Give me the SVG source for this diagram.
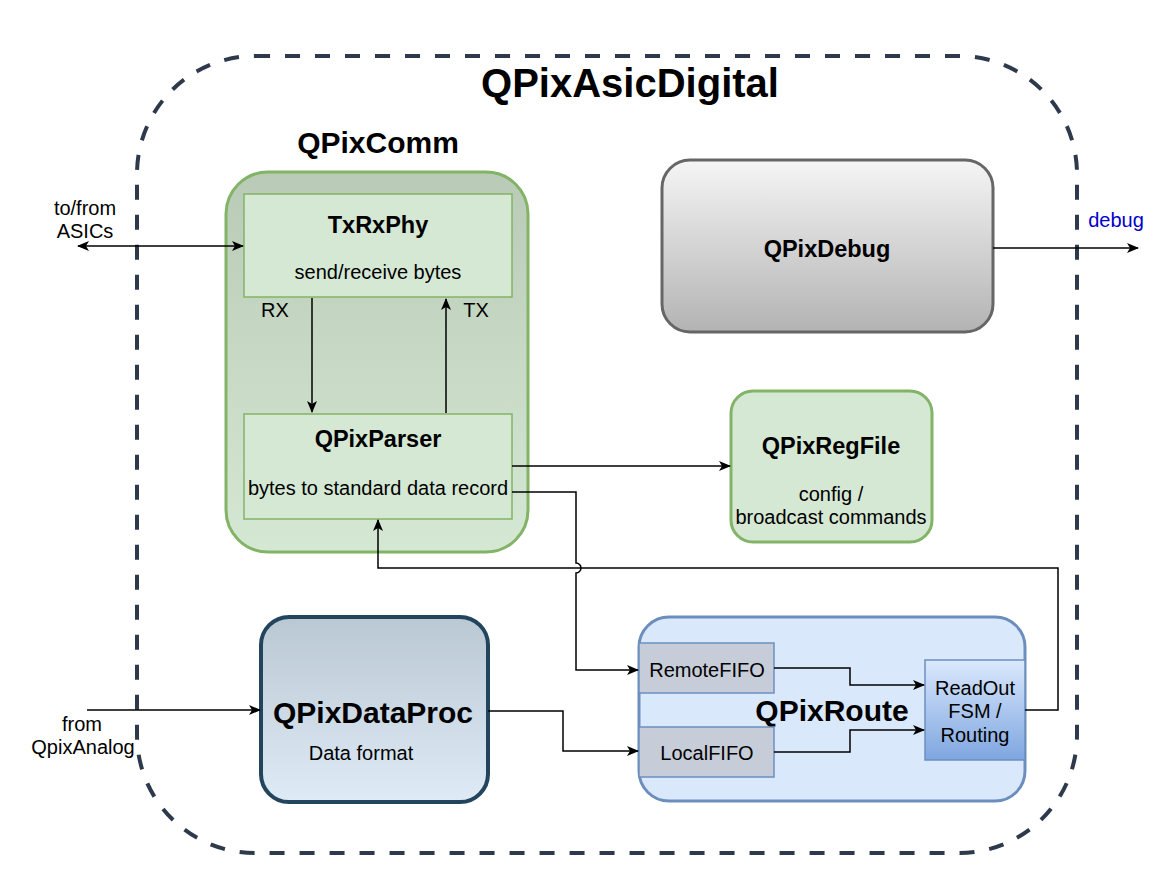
<svg xmlns="http://www.w3.org/2000/svg" width="1168" height="886" viewBox="0 0 1168 886">
<defs>
<marker id="arr" viewBox="0 0 12 10" refX="11" refY="5" markerWidth="12" markerHeight="10" markerUnits="userSpaceOnUse" orient="auto-start-reverse">
<path d="M0,0 L12,5 L0,10 L3,5 Z" fill="#000"/>
</marker>
<linearGradient id="gComm" x1="0" y1="0" x2="0" y2="1"><stop offset="0" stop-color="#b9cbb6"/><stop offset="1" stop-color="#d5e8d4"/></linearGradient>
<linearGradient id="gDebug" x1="0" y1="0" x2="0" y2="1"><stop offset="0" stop-color="#f5f5f5"/><stop offset="1" stop-color="#b3b3b3"/></linearGradient>
<linearGradient id="gProc" x1="0" y1="0" x2="0" y2="1"><stop offset="0" stop-color="#bac8d3"/><stop offset="1" stop-color="#deebf7"/></linearGradient>
<linearGradient id="gFsm" x1="0" y1="0" x2="0" y2="1"><stop offset="0" stop-color="#dae8fc"/><stop offset="1" stop-color="#7ea6e0"/></linearGradient>
</defs>
<style>
text{font-family:"Liberation Sans",Arial,sans-serif;fill:#000;text-anchor:middle}
.b{font-weight:bold}
.t16{font-size:20px}
.t20{font-size:23.5px}
.t28{font-size:30px}
.grn{fill:#d5e8d4;stroke:#82b366;stroke-width:1.5}
.fifo{fill:#c6cdd9;stroke:#6c8ebf;stroke-width:1.5}
.c{fill:none;stroke:#000;stroke-width:1.5}
</style>
<rect x="137" y="56" width="940" height="797" rx="118" fill="none" stroke="#2e3a4c" stroke-width="4" stroke-dasharray="15 15"/>
<text class="b" x="630" y="97" style="font-size:40px">QPixAsicDigital</text>
<g id="QPixComm">
<text class="b" x="378" y="153" style="font-size:30px">QPixComm</text>
<rect x="226" y="172" width="302" height="380" rx="42" fill="url(#gComm)" stroke="#82b366" stroke-width="3"/>
</g>
<g id="TxRxPhy">
<rect class="grn" x="244" y="194" width="268" height="103"/>
<text class="b t20" x="378" y="233">TxRxPhy</text>
<text class="t16" x="378" y="279">send/receive bytes</text>
</g>
<g id="QPixParser">
<rect class="grn" x="244" y="414" width="268" height="105"/>
<text class="b t20" x="378" y="447">QPixParser</text>
<text class="t16" x="378" y="495">bytes to standard data record</text>
</g>
<g id="QPixDebug">
<rect x="662" y="160" width="331" height="172" rx="28" fill="url(#gDebug)" stroke="#666" stroke-width="3"/>
<text class="b t20" x="827" y="257">QPixDebug</text>
</g>
<g id="QPixRegFile">
<rect x="731" y="391" width="201" height="151" rx="22" fill="#d5e8d4" stroke="#82b366" stroke-width="3"/>
<text class="b t20" x="831" y="454">QPixRegFile</text>
<text class="t16" x="831" y="501">config /</text>
<text class="t16" x="831" y="524">broadcast commands</text>
</g>
<g id="QPixDataProc">
<rect x="261" y="617" width="227" height="185" rx="28" fill="url(#gProc)" stroke="#23445d" stroke-width="4"/>
<text class="b t28" x="373" y="723">QPixDataProc</text>
<text class="t16" x="361" y="760">Data format</text>
</g>
<g id="QPixRoute">
<rect x="639" y="617" width="386" height="184" rx="30" fill="#dae8fc" stroke="#6c8ebf" stroke-width="3"/>
<text class="b t28" x="832" y="721">QPixRoute</text>
</g>
<g id="RemoteFIFO">
<rect class="fifo" x="639" y="643" width="135" height="50"/>
<text class="t16" x="707" y="677">RemoteFIFO</text>
</g>
<g id="LocalFIFO">
<rect class="fifo" x="639" y="727" width="135" height="50"/>
<text class="t16" x="707" y="760">LocalFIFO</text>
</g>
<g id="ReadOut">
<rect x="925" y="660" width="100" height="100" fill="url(#gFsm)" stroke="#6c8ebf" stroke-width="1.5"/>
<text class="t16" x="975" y="695">ReadOut</text>
<text class="t16" x="975" y="718">FSM /</text>
<text class="t16" x="975" y="742">Routing</text>
</g>
<g id="labels">
<text class="t16" x="85" y="215">to/from</text>
<text class="t16" x="85" y="238">ASICs</text>
<text class="t16" x="275" y="317">RX</text>
<text class="t16" x="476" y="317">TX</text>
<text class="t16" x="1116" y="227" style="fill:#0000cc">debug</text>
<text class="t16" x="82" y="731">from</text>
<text class="t16" x="83" y="754">QpixAnalog</text>
</g>
<g id="connectors">
<path class="c" d="M78,246 L243,246" marker-start="url(#arr)" marker-end="url(#arr)"/>
<path class="c" d="M312,298 L312,412" marker-end="url(#arr)"/>
<path class="c" d="M446,413 L446,299" marker-end="url(#arr)"/>
<path class="c" d="M512,466 L730,466" marker-end="url(#arr)"/>
<path class="c" d="M512,492 L576,492 L576,563 A5,5 0 0 1 576,573 L576,670 L638,670" marker-end="url(#arr)"/>
<path class="c" d="M993,248 L1138,248" marker-end="url(#arr)"/>
<path class="c" d="M87,710 L260,710" marker-end="url(#arr)"/>
<path class="c" d="M488,711 L563,711 L563,751 L638,751" marker-end="url(#arr)"/>
<path class="c" d="M774,668 L850,668 L850,685 L924,685" marker-end="url(#arr)"/>
<path class="c" d="M774,752 L850,752 L850,730 L924,730" marker-end="url(#arr)"/>
<path class="c" d="M1025,710 L1058,710 L1058,568 L378,568 L378,520" marker-end="url(#arr)"/>
</g>
</svg>
